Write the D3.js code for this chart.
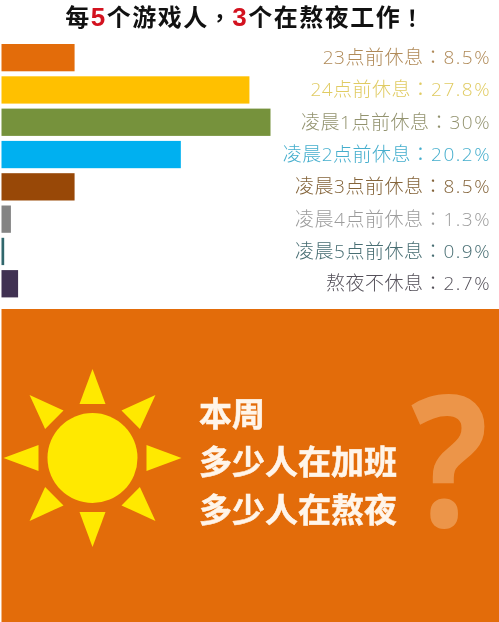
<!DOCTYPE html>
<html><head><meta charset="utf-8">
<script src="https://cdnjs.cloudflare.com/ajax/libs/d3/7.8.5/d3.min.js"></script>
<style>html,body{margin:0;padding:0;background:#fff}svg{display:block;filter:blur(0.35px)}</style>
</head><body><div id="c"></div>
<script>
const categories=["23点前休息","24点前休息","凌晨1点前休息","凌晨2点前休息","凌晨3点前休息","凌晨4点前休息","凌晨5点前休息","熬夜不休息"];
const labelValues=["8.5%","27.8%","30%","20.2%","8.5%","1.3%","0.9%","2.7%"];
// bar lengths as drawn in the picture, in percent
const barValues=[8.15,27.65,30,20,8.15,1.05,0.3,1.85];
const barColors=["#e36c0a","#ffc000","#76923c","#00b0f0","#984807","#848484","#31676c","#403152"];
const labelColors=["#b08a58","#e0cb62","#93936f","#45aecd","#84643a","#9c9c9c","#486e73","#55515a"];
const W=499,H=622;
const svg=d3.select("#c").append("svg").attr("width",W).attr("height",H);
const cjk='"Open Sans","Noto Sans CJK SC",sans-serif';
const tc='"Noto Sans CJK TC",sans-serif';
const y=d3.scaleBand().domain(categories).range([44,297.4]).paddingInner(0.155).paddingOuter(0);
const x=d3.scaleLinear().domain([0,30]).range([1.5,270.5]);
const t=svg.append("text").attr("x",245).attr("y",26).attr("text-anchor","middle")
  .attr("font-family",'"Liberation Sans","Noto Sans CJK SC",sans-serif').attr("font-weight",700).attr("font-size",24).attr("letter-spacing",1.5).attr("fill","#111");
[["每"],["5",1],["个游戏人"],["，",2],["3",1],["个在熬夜工作"],["！",2]].forEach(([s,r])=>{
  const sp=t.append("tspan").text(s).attr("fill",r===1?"#d3121f":"#111").attr("font-size",r===1?26:r===2?22:24);
  if(r===2)sp.attr("font-family",tc);
});
svg.selectAll("rect.bar").data(categories).join("rect").attr("class","bar")
  .attr("x",x(0)).attr("y",d=>y(d)).attr("height",y.bandwidth())
  .attr("width",(d,i)=>x(barValues[i])-x(0)).attr("fill",(d,i)=>barColors[i]);
const labs=svg.selectAll("text.lab").data(categories).join("text").attr("class","lab")
  .attr("x",491).attr("y",d=>y(d)+y.bandwidth()/2+6.5).attr("text-anchor","end")
  .attr("font-family",cjk).attr("font-size",19).attr("font-weight",300)
  .attr("fill",(d,i)=>labelColors[i]);
labs.append("tspan").attr("letter-spacing",0.5).text(d=>d);
labs.append("tspan").attr("font-family",tc).attr("font-weight",300).text("：");
labs.append("tspan").attr("dx",1).attr("letter-spacing",1.5).text((d,i)=>labelValues[i]);
// lower panel
svg.append("rect").attr("x",1.5).attr("y",309).attr("width",W-1.5).attr("height",H-309).attr("fill","#e36c0a");
const cx=92.5,cy=458;
svg.append("circle").attr("cx",cx).attr("cy",cy).attr("r",45).attr("fill","#ffe900");
const ray=d3.path();ray.moveTo(0,-89);ray.lineTo(13,-54);ray.lineTo(-13,-54);ray.closePath();
svg.selectAll("path.ray").data(d3.range(8)).join("path").attr("class","ray").attr("d",ray.toString())
  .attr("transform",d=>`translate(${cx},${cy}) rotate(${d*45})`).attr("fill","#ffe900");
svg.append("text").attr("text-anchor","middle").attr("transform","translate(449.5,527) scale(0.88,1)").attr("font-family",'"Open Sans",sans-serif')
  .attr("font-weight",700).attr("font-size",184).attr("fill","#ec9549").text("?");
svg.selectAll("text.head").data(["本周","多少人在加班","多少人在熬夜"]).join("text").attr("class","head")
  .attr("x",199).attr("y",(d,i)=>426+i*48).attr("font-family",'"Noto Sans CJK SC",sans-serif').attr("font-weight",700)
  .attr("font-size",33).attr("fill","#fff5ea").attr("stroke","#fff5ea").attr("stroke-width",0.5).text(d=>d);
</script></body></html>
